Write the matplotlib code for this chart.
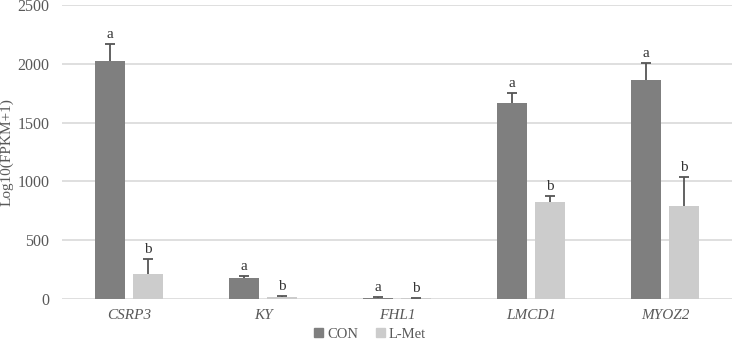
import matplotlib.pyplot as plt
import numpy as np
from matplotlib.patches import Patch

genes = ["CSRP3", "KY", "FHL1", "LMCD1", "MYOZ2"]
con_vals = [2020, 180, 10, 1665, 1862]
con_err = [145, 12, 8, 85, 145]
met_vals = [213, 17, 5, 825, 788]
met_err = [128, 8, 4, 55, 250]
con_letters = ["a", "a", "a", "a", "a"]
met_letters = ["b", "b", "b", "b", "b"]

plt.rcParams["font.family"] = ["Liberation Serif", "DejaVu Serif"]
c_con = "#7f7f7f"
c_met = "#cccccc"
txt = "#595959"

fig = plt.figure(figsize=(7.33, 3.43), dpi=100)
ax = fig.add_axes([62 / 733, 44 / 343, 670 / 733, 294 / 343])

x = np.arange(len(genes))
w = 0.22
off = 0.143
ax.bar(x - off, con_vals, w, color=c_con, zorder=3, label="CON")
ax.bar(x + off, met_vals, w, color=c_met, zorder=3, label="L-Met")
for xs, vals, errs in [(x - off, con_vals, con_err), (x + off, met_vals, met_err)]:
    eb = ax.errorbar(xs, vals, yerr=[np.zeros(5), errs], fmt="none",
                     ecolor="#555555", elinewidth=1.3, capsize=3.5, capthick=1.3, zorder=4)
    eb[1][0].set_visible(False)  # hide lower caps

for i in range(len(genes)):
    ax.text(x[i] - off, con_vals[i] + con_err[i] + 25, con_letters[i],
            ha="center", va="bottom", fontsize=11, color="#333333")
    ax.text(x[i] + off, met_vals[i] + met_err[i] + 25, met_letters[i],
            ha="center", va="bottom", fontsize=11, color="#333333")

ax.set_xlim(-0.5, len(genes) - 0.5)
ax.set_ylim(0, 2500)
ax.set_yticks(np.arange(0, 2501, 500))
ax.set_xticks(x)
ax.set_xticklabels(genes, fontstyle="italic", fontsize=11, color=txt)
ax.tick_params(axis="y", labelsize=11.5, colors=txt, length=0, pad=9)
ax.tick_params(axis="x", length=0, pad=7)
ax.grid(axis="y", color="#d9d9d9", linewidth=1.2, zorder=0)
for s in ax.spines.values():
    s.set_visible(False)
ax.set_ylabel("Log10(FPKM+1)", fontsize=11, color=txt, labelpad=3)

handles = [Patch(color=c_con), Patch(color=c_met)]
fig.legend(handles, ["CON", "L-Met"], loc="center", bbox_to_anchor=(0.505, 9 / 343),
           ncol=2, frameon=False, fontsize=10.5, handlelength=0.6, handleheight=0.6,
           handletextpad=0.3, columnspacing=1.2, labelcolor=txt)

fig.savefig("out.png", dpi=100)
